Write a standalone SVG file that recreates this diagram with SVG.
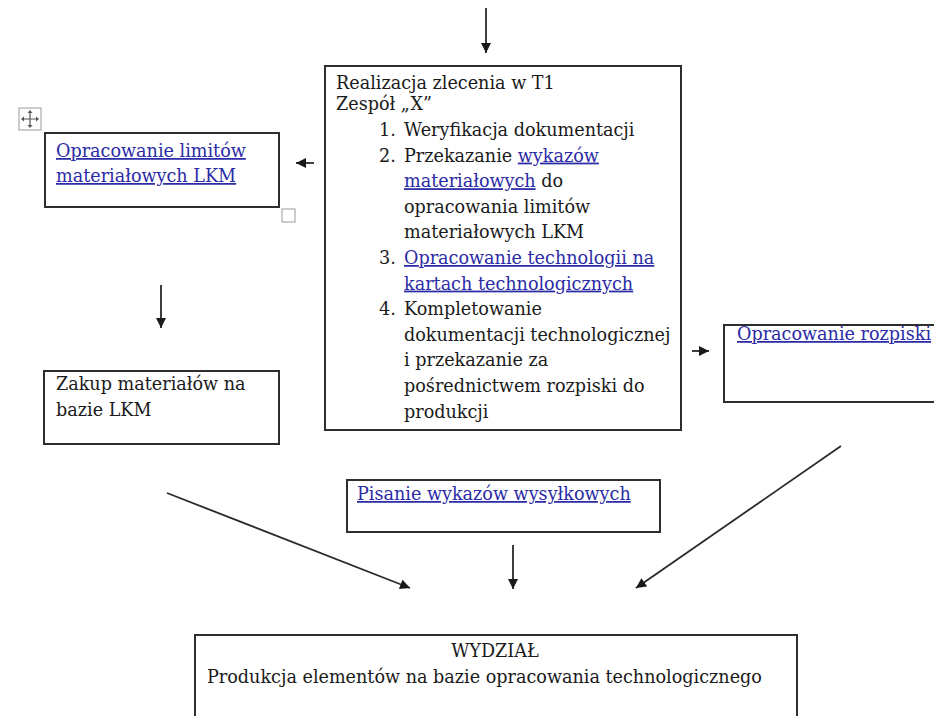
<svg xmlns="http://www.w3.org/2000/svg" width="934" height="716" viewBox="0 0 934 716">
<defs>
<marker id="ah" viewBox="0 0 10 10" refX="10" refY="5" markerWidth="11" markerHeight="10" markerUnits="userSpaceOnUse" orient="auto">
<path d="M0,0 L10,5 L0,10 z" fill="#1a1a1a"/>
</marker>
<style>
.box{fill:#fff;stroke:#2e2e2e;stroke-width:2}
.t{font-family:"DejaVu Serif","Liberation Serif",serif;font-size:17.6px;fill:#1a1a1a}
.lk{fill:#2b2ba6;text-decoration:underline}
.c{stroke:#2a2a2a;stroke-width:1.8;fill:none;marker-end:url(#ah)}
.h{fill:#fff;stroke:#999;stroke-width:1}
</style>
</defs>
<rect width="934" height="716" fill="#fff"/>
<g id="connectors">
<line class="c" x1="486" y1="8" x2="486" y2="53"/>
<line class="c" x1="314" y1="163" x2="296" y2="163"/>
<line class="c" x1="161" y1="285" x2="161" y2="328"/>
<line class="c" x1="692" y1="351" x2="709" y2="351"/>
<line class="c" x1="167" y1="493" x2="410" y2="588"/>
<line class="c" x1="513" y1="545" x2="513" y2="589"/>
<line class="c" x1="841" y1="446" x2="636" y2="588"/>
</g>
<g id="handles">
<rect class="h" x="19" y="108" width="22" height="22"/>
<path d="M30,111 V127 M22,119 H38" stroke="#555" stroke-width="1.2"/>
<path d="M30,110 l-2.5,3 h5 z M30,128 l-2.5,-3 h5 z M21,119 l3,-2.5 v5 z M39,119 l-3,-2.5 v5 z" fill="#555"/>
<rect class="h" x="282" y="209" width="13" height="13"/>
</g>
<g id="node-main">
<rect class="box" x="325" y="66" width="356" height="364"/>
<text class="t" x="336" y="89">Realizacja zlecenia w T1</text>
<text class="t" x="336" y="110">Zespół „X”</text>
<text class="t" x="379" y="136">1.</text>
<text class="t" x="404" y="136">Weryfikacja dokumentacji</text>
<text class="t" x="379" y="161.6">2.</text>
<text class="t" x="404" y="161.6">Przekazanie <tspan class="lk">wykazów</tspan></text>
<text class="t" x="404" y="187.2"><tspan class="lk">materiałowych</tspan> do</text>
<text class="t" x="404" y="212.8">opracowania limitów</text>
<text class="t" x="404" y="238.4">materiałowych LKM</text>
<text class="t" x="379" y="264">3.</text>
<text class="t" x="404" y="264"><tspan class="lk">Opracowanie technologii na</tspan></text>
<text class="t" x="404" y="289.6"><tspan class="lk">kartach technologicznych</tspan></text>
<text class="t" x="379" y="315.2">4.</text>
<text class="t" x="404" y="315.2">Kompletowanie</text>
<text class="t" x="404" y="340.8">dokumentacji technologicznej</text>
<text class="t" x="404" y="366.4">i przekazanie za</text>
<text class="t" x="404" y="392">pośrednictwem rozpiski do</text>
<text class="t" x="404" y="417.6">produkcji</text>
</g>
<g id="node-limity">
<rect class="box" x="45" y="133" width="234" height="74"/>
<text class="t" x="56" y="157"><tspan class="lk">Opracowanie limitów</tspan></text>
<text class="t" x="56" y="182"><tspan class="lk">materiałowych LKM</tspan></text>
</g>
<g id="node-zakup">
<rect class="box" x="44" y="371" width="235" height="73"/>
<text class="t" x="56" y="390">Zakup materiałów na</text>
<text class="t" x="56" y="416">bazie LKM</text>
</g>
<g id="node-rozpiska">
<rect class="box" x="724" y="325" width="220" height="77"/>
<text class="t" x="737" y="340"><tspan class="lk">Opracowanie rozpiski</tspan></text>
</g>
<g id="node-wykazy">
<rect class="box" x="347" y="480" width="313" height="52"/>
<text class="t" x="357" y="500"><tspan class="lk">Pisanie wykazów wysyłkowych</tspan></text>
</g>
<g id="node-wydzial">
<rect class="box" x="195" y="635" width="602" height="100"/>
<text class="t" x="495" y="657" text-anchor="middle">WYDZIAŁ</text>
<text class="t" x="207" y="683">Produkcja elementów na bazie opracowania technologicznego</text>
</g>
</svg>
